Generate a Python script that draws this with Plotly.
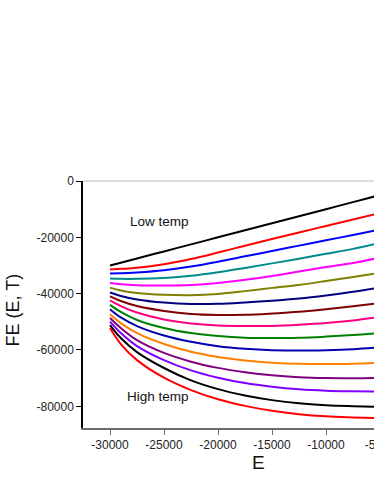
import plotly.graph_objects as go

# energy grid the curves were read at
energy = [-30000, -29000, -27500, -25000, -22500, -20000, -17500, -15000, -12500, -10000, -7500, -5000]

# free energy curves, lowest temperature first
fe_t01 = [-30000, -29000, -27500, -25000, -22500, -20000, -17500, -15000, -12500, -10000, -7500, -5000]
fe_t02 = [-31400, -31200, -30825, -29575, -27700, -25400, -22975, -20600, -18275, -15975, -13675, -11375]
fe_t03 = [-32800, -32750, -32450, -31650, -30350, -28650, -26750, -24850, -22950, -21050, -19150, -17250]
fe_t04 = [-34600, -34750, -34750, -34400, -33650, -32400, -30850, -29250, -27600, -25850, -24100, -21950]
fe_t05 = [-36200, -36650, -37000, -37100, -36900, -36200, -35050, -33700, -32100, -30550, -29100, -27200]
fe_t06 = [-37850, -38850, -39750, -40400, -40550, -40100, -39100, -37950, -36900, -35500, -34050, -32650]
fe_t07 = [-39600, -40800, -42050, -43150, -43650, -43600, -43150, -42550, -41750, -40650, -39350, -37850]
fe_t08 = [-40950, -42600, -44400, -46150, -47250, -47600, -47500, -47050, -46450, -45500, -44450, -43300]
fe_t09 = [-42400, -44400, -46700, -49200, -50600, -51300, -51500, -51450, -51050, -50450, -49550, -48300]
fe_t10 = [-44000, -46500, -49350, -52200, -54000, -55050, -55650, -55750, -55650, -55250, -54700, -54000]
fe_t11 = [-45500, -48450, -51500, -54850, -57100, -58650, -59550, -60050, -60200, -60050, -59700, -59050]
fe_t12 = [-47300, -50450, -54000, -57850, -60600, -62450, -63700, -64500, -64900, -65000, -64850, -64500]
fe_t13 = [-48650, -52200, -56500, -61050, -64150, -66350, -67900, -69000, -69650, -69950, -70000, -69900]
fe_t14 = [-49950, -54000, -58600, -63600, -67250, -69850, -71750, -73050, -73950, -74450, -74650, -74750]
fe_t15 = [-51150, -55750, -60750, -66400, -70800, -73900, -76150, -77800, -78950, -79600, -79950, -80200]
fe_t16 = [-52200, -57900, -63600, -69850, -74250, -77500, -79850, -81600, -82800, -83550, -83950, -84250]

x_tick_vals = [-30000, -25000, -20000, -15000, -10000, -5000]
x_tick_text = ["-30000", "-25000", "-20000", "-15000", "-10000", "-5000"]
y_tick_vals = [0, -20000, -40000, -60000, -80000]
y_tick_text = ["0", "-20000", "-40000", "-60000", "-80000"]

curves = [fe_t01, fe_t02, fe_t03, fe_t04, fe_t05, fe_t06, fe_t07, fe_t08,
          fe_t09, fe_t10, fe_t11, fe_t12, fe_t13, fe_t14, fe_t15, fe_t16]
colors = ["#000000", "#ff0000", "#0000ff", "#008b8b", "#ff00ff", "#808000",
          "#000080", "#800000", "#ff0080", "#008000", "#0000b0", "#ff8000",
          "#800080", "#8000ff", "#000000", "#ff0000"]

FONT = "Liberation Sans, Arial, sans-serif"

fig = go.Figure()
for values, color in zip(curves, colors):
  fig.add_trace(
    go.Scatter(
      x=energy,
      y=values,
      mode="lines",
      line=dict(color=color, width=2, shape="spline", smoothing=1.0),
      showlegend=False,
      hoverinfo="skip",
    )
  )

fig.add_shape(type="line", xref="paper", yref="paper", x0=0, x1=1, y0=1, y1=1,
              line=dict(color="#bbbbbb", width=1))

fig.add_annotation(x=-25450, y=-14400, text="Low temp", showarrow=False,
                   font=dict(size=13.5, color="#111111", family=FONT))
fig.add_annotation(x=-25550, y=-76650, text="High temp", showarrow=False,
                   font=dict(size=13.5, color="#111111", family=FONT))
fig.add_annotation(x=0, y=0.5, xref="paper", yref="paper", text="FE (E, T)",
                   textangle=-90, showarrow=False, xanchor="center", yanchor="middle",
                   xshift=-71, yshift=-6, font=dict(size=18, color="#111111", family=FONT))
fig.add_annotation(x=0.5, y=0, xref="paper", yref="paper", text="E",
                   showarrow=False, xanchor="center", yanchor="middle",
                   yshift=-34, font=dict(size=19, color="#111111", family=FONT))

fig.update_layout(
  width=460,
  height=484,
  margin=dict(l=83, r=26, t=181, b=56),
  paper_bgcolor="white",
  plot_bgcolor="white",
  font=dict(family=FONT, size=12, color="#222222"),
  xaxis=dict(
    range=[-32500, 0],
    tickvals=x_tick_vals,
    ticktext=x_tick_text,
    showgrid=False,
    zeroline=False,
    showline=True,
    linecolor="#6e6e6e",
    linewidth=1.5,
    ticks="outside",
    ticklen=5,
    tickcolor="#6e6e6e",
    tickfont=dict(size=12, color="#222222"),
  ),
  yaxis=dict(
    range=[-87700, 0],
    tickvals=y_tick_vals,
    ticktext=y_tick_text,
    showgrid=False,
    zeroline=False,
    showline=True,
    linecolor="#000000",
    linewidth=1.5,
    ticks="outside",
    ticklen=5,
    tickcolor="#000000",
    tickfont=dict(size=12, color="#222222"),
  ),
)

hide_overflow = (
  "document.documentElement.style.overflow='hidden';"
  "document.body.style.overflow='hidden';"
  "document.body.style.margin='0';"
)
fig.write_html("out.html", post_script=hide_overflow, config={"displayModeBar": False})
